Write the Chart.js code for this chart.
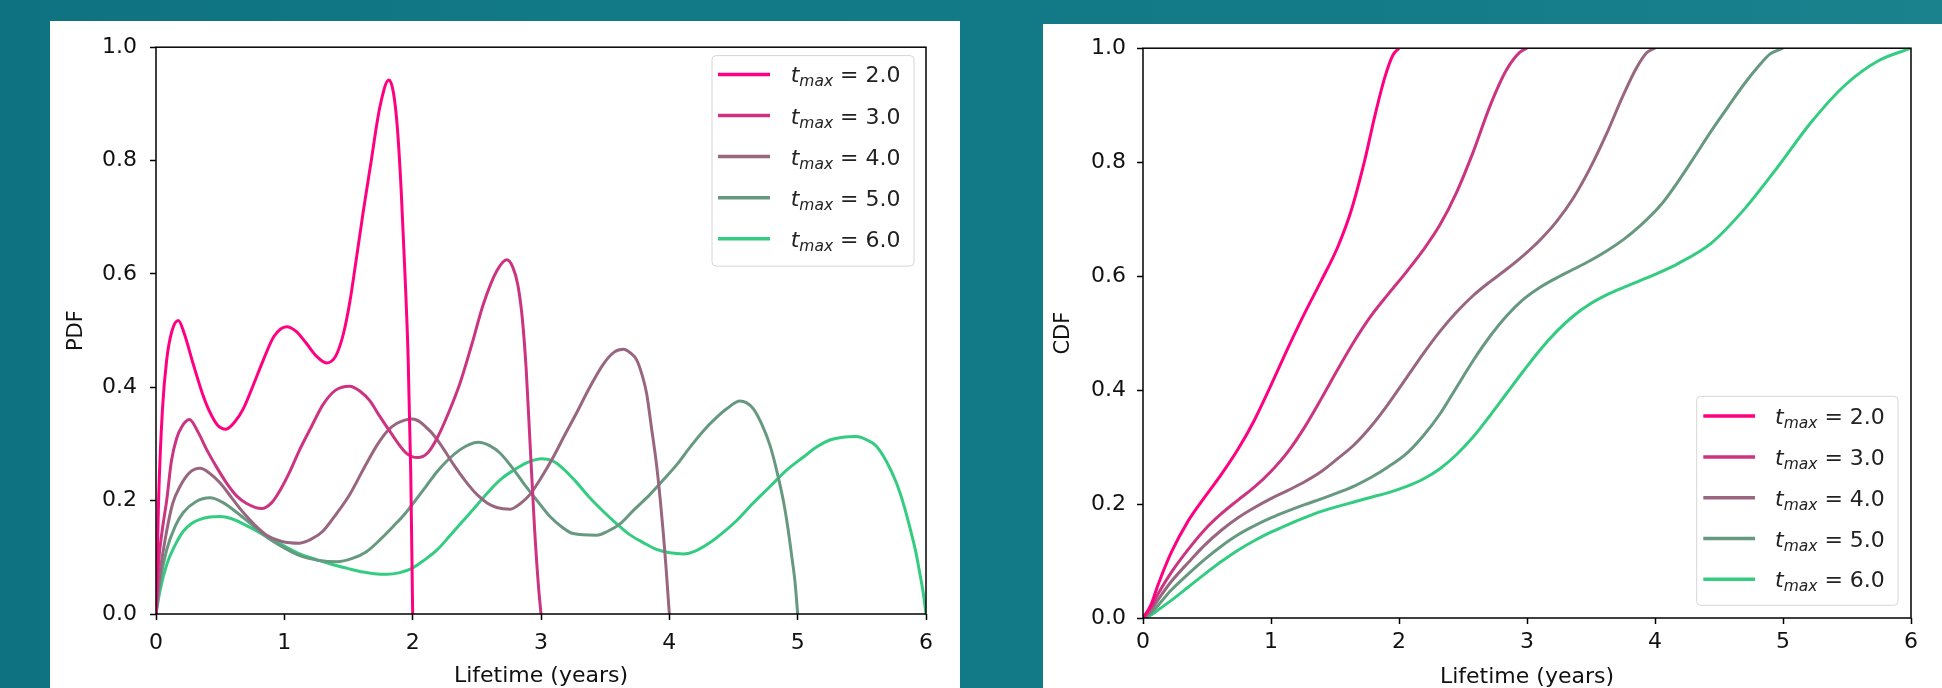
<!DOCTYPE html>
<html>
<head>
<meta charset="utf-8">
<script src="https://cdn.jsdelivr.net/npm/chart.js@4.4.1/dist/chart.umd.min.js"></script>
<style>
html, body { margin: 0; padding: 0; }
body {
    width: 1942px; height: 688px; overflow: hidden; position: relative;
    background: linear-gradient(90deg, #0f7280 0%, #127a87 35%, #137b88 70%, #1a828d 100%);
}
.panel { position: absolute; background: #fff; }
#panelPdf { left: 50px; top: 21px; width: 910px; height: 667px; }
#panelCdf { left: 1043px; top: 24px; width: 899px; height: 664px; }
canvas { display: block; }
</style>
</head>
<body>
<div class="panel" id="panelPdf"><canvas id="chartPdf" width="910" height="667"></canvas></div>
<div class="panel" id="panelCdf"><canvas id="chartCdf" width="899" height="664"></canvas></div>
<script>
// legend values and colours
var tmaxLabels = ['2.0', '3.0', '4.0', '5.0', '6.0'];
var lineColors = ['#ff0080', '#cc3380', '#996680', '#669980', '#33cc80'];

// PDF curves (time in years, density)
var pdf2t = [0, 0.02, 0.05, 0.083, 0.125, 0.174, 0.22, 0.29, 0.36, 0.42, 0.48, 0.545, 0.61, 0.68, 0.76, 0.836, 0.92, 1.018, 1.09, 1.17, 1.25, 1.33, 1.40, 1.46, 1.51, 1.56, 1.615, 1.67, 1.745, 1.815, 1.85, 1.88, 1.91, 1.94, 1.965, 1.985, 2.0];
var pdf2v = [0, 0.20, 0.36, 0.448, 0.50, 0.518, 0.495, 0.441, 0.39, 0.356, 0.333, 0.326, 0.338, 0.362, 0.405, 0.448, 0.49, 0.507, 0.499, 0.478, 0.455, 0.443, 0.455, 0.494, 0.55, 0.625, 0.71, 0.789, 0.895, 0.942, 0.92, 0.86, 0.75, 0.60, 0.45, 0.25, 0];
var pdf3t = [0, 0.02, 0.05, 0.083, 0.12, 0.161, 0.2, 0.26, 0.33, 0.395, 0.47, 0.55, 0.63, 0.706, 0.823, 0.9, 0.966, 1.04, 1.12, 1.21, 1.30, 1.40, 1.51, 1.59, 1.667, 1.74, 1.82, 1.95, 2.04, 2.12, 2.19, 2.28, 2.37, 2.46, 2.55, 2.655, 2.733, 2.78, 2.82, 2.855, 2.885, 2.915, 2.95, 2.98, 3.0];
var pdf3v = [0, 0.09, 0.15, 0.20, 0.27, 0.31, 0.33, 0.343, 0.32, 0.29, 0.26, 0.231, 0.208, 0.195, 0.186, 0.196, 0.218, 0.25, 0.29, 0.33, 0.369, 0.395, 0.402, 0.393, 0.376, 0.35, 0.323, 0.284, 0.276, 0.285, 0.31, 0.355, 0.408, 0.475, 0.546, 0.605, 0.625, 0.612, 0.58, 0.52, 0.43, 0.30, 0.15, 0.05, 0];
var pdf4t = [0, 0.03, 0.083, 0.13, 0.187, 0.26, 0.343, 0.42, 0.5, 0.59, 0.68, 0.77, 0.862, 0.98, 1.12, 1.21, 1.30, 1.40, 1.51, 1.62, 1.72, 1.80, 1.875, 2.0, 2.135, 2.23, 2.318, 2.41, 2.50, 2.58, 2.655, 2.76, 2.84, 2.915, 3.0, 3.096, 3.19, 3.28, 3.38, 3.486, 3.57, 3.642, 3.70, 3.746, 3.79, 3.823, 3.86, 3.90, 3.93, 3.954, 3.975, 4.0];
var pdf4v = [0, 0.07, 0.146, 0.195, 0.225, 0.249, 0.257, 0.248, 0.231, 0.205, 0.179, 0.157, 0.139, 0.128, 0.125, 0.132, 0.146, 0.175, 0.211, 0.257, 0.297, 0.322, 0.336, 0.344, 0.323, 0.295, 0.264, 0.235, 0.211, 0.196, 0.188, 0.185, 0.195, 0.211, 0.24, 0.277, 0.318, 0.356, 0.40, 0.441, 0.462, 0.467, 0.46, 0.448, 0.42, 0.389, 0.33, 0.264, 0.20, 0.14, 0.08, 0];
var pdf5t = [0, 0.03, 0.083, 0.15, 0.213, 0.31, 0.42, 0.52, 0.63, 0.75, 0.862, 0.99, 1.12, 1.26, 1.41, 1.53, 1.64, 1.75, 1.85, 1.94, 2.03, 2.11, 2.19, 2.28, 2.37, 2.44, 2.512, 2.60, 2.68, 2.77, 2.863, 2.97, 3.07, 3.16, 3.25, 3.434, 3.52, 3.616, 3.73, 3.85, 3.95, 4.06, 4.16, 4.265, 4.36, 4.447, 4.55, 4.60, 4.655, 4.72, 4.785, 4.84, 4.89, 4.925, 4.955, 4.98, 5.0];
var pdf5v = [0, 0.055, 0.113, 0.155, 0.179, 0.198, 0.205, 0.197, 0.179, 0.157, 0.136, 0.118, 0.103, 0.095, 0.092, 0.098, 0.110, 0.132, 0.155, 0.177, 0.203, 0.227, 0.251, 0.273, 0.29, 0.299, 0.303, 0.297, 0.284, 0.26, 0.231, 0.20, 0.172, 0.154, 0.142, 0.139, 0.146, 0.159, 0.185, 0.211, 0.236, 0.264, 0.294, 0.323, 0.345, 0.362, 0.376, 0.373, 0.362, 0.335, 0.297, 0.25, 0.198, 0.15, 0.10, 0.055, 0];
var pdf6t = [0, 0.03, 0.083, 0.15, 0.213, 0.28, 0.343, 0.42, 0.5, 0.59, 0.68, 0.78, 0.888, 1.0, 1.12, 1.25, 1.38, 1.5, 1.615, 1.70, 1.80, 1.90, 1.99, 2.09, 2.19, 2.29, 2.395, 2.50, 2.60, 2.70, 2.81, 2.90, 3.005, 3.09, 3.17, 3.27, 3.38, 3.49, 3.59, 3.69, 3.797, 3.9, 4.005, 4.11, 4.21, 4.317, 4.42, 4.525, 4.65, 4.785, 4.91, 5.045, 5.15, 5.25, 5.35, 5.457, 5.54, 5.61, 5.69, 5.77, 5.83, 5.875, 5.92, 5.95, 5.98, 6.0];
var pdf6v = [0, 0.04, 0.087, 0.122, 0.146, 0.16, 0.167, 0.171, 0.172, 0.168, 0.159, 0.147, 0.133, 0.12, 0.106, 0.096, 0.087, 0.08, 0.074, 0.071, 0.070, 0.073, 0.08, 0.095, 0.113, 0.138, 0.165, 0.192, 0.218, 0.24, 0.257, 0.268, 0.274, 0.27, 0.257, 0.234, 0.205, 0.18, 0.159, 0.14, 0.126, 0.114, 0.108, 0.106, 0.112, 0.126, 0.144, 0.165, 0.195, 0.225, 0.253, 0.277, 0.295, 0.307, 0.312, 0.313, 0.307, 0.297, 0.27, 0.231, 0.19, 0.152, 0.11, 0.074, 0.035, 0];

// CDF curves
var cdf2t = [0, 0.06, 0.117, 0.221, 0.352, 0.482, 0.612, 0.742, 0.872, 1.003, 1.133, 1.263, 1.393, 1.523, 1.628, 1.732, 1.81, 1.888, 1.953, 2.0];
var cdf2v = [0, 0.022, 0.058, 0.115, 0.17, 0.212, 0.252, 0.296, 0.348, 0.41, 0.474, 0.535, 0.592, 0.652, 0.716, 0.803, 0.88, 0.948, 0.988, 1.0];
var cdf3t = [0, 0.06, 0.117, 0.221, 0.352, 0.482, 0.612, 0.742, 0.872, 1.003, 1.133, 1.263, 1.393, 1.523, 1.654, 1.784, 1.914, 2.06, 2.19, 2.32, 2.45, 2.58, 2.71, 2.84, 2.945, 3.0];
var cdf3v = [0, 0.018, 0.042, 0.08, 0.12, 0.155, 0.183, 0.207, 0.23, 0.258, 0.292, 0.335, 0.385, 0.437, 0.487, 0.531, 0.568, 0.608, 0.646, 0.69, 0.747, 0.818, 0.898, 0.962, 0.993, 1.0];
var cdf4t = [0, 0.06, 0.117, 0.221, 0.352, 0.482, 0.612, 0.742, 0.872, 1.003, 1.133, 1.263, 1.393, 1.523, 1.654, 1.784, 1.914, 2.06, 2.19, 2.32, 2.45, 2.58, 2.71, 2.84, 2.971, 3.10, 3.232, 3.362, 3.492, 3.622, 3.753, 3.857, 3.935, 4.0];
var cdf4v = [0, 0.013, 0.032, 0.064, 0.097, 0.128, 0.154, 0.176, 0.194, 0.21, 0.224, 0.239, 0.257, 0.28, 0.305, 0.337, 0.375, 0.422, 0.464, 0.503, 0.537, 0.566, 0.59, 0.612, 0.636, 0.663, 0.696, 0.737, 0.789, 0.85, 0.918, 0.966, 0.992, 1.0];
var cdf5t = [0, 0.06, 0.117, 0.221, 0.352, 0.482, 0.612, 0.742, 0.872, 1.003, 1.133, 1.263, 1.393, 1.523, 1.654, 1.784, 1.914, 2.06, 2.19, 2.32, 2.45, 2.58, 2.71, 2.84, 2.971, 3.10, 3.232, 3.362, 3.492, 3.622, 3.753, 3.883, 4.05, 4.18, 4.31, 4.44, 4.57, 4.70, 4.8, 4.9, 5.0];
var cdf5v = [0, 0.008, 0.022, 0.049, 0.077, 0.103, 0.126, 0.146, 0.162, 0.176, 0.188, 0.199, 0.209, 0.22, 0.232, 0.247, 0.265, 0.289, 0.32, 0.358, 0.405, 0.452, 0.494, 0.53, 0.559, 0.58, 0.597, 0.612, 0.627, 0.644, 0.664, 0.688, 0.726, 0.766, 0.81, 0.855, 0.897, 0.938, 0.966, 0.99, 1.0];
var cdf6t = [0, 0.06, 0.117, 0.221, 0.352, 0.482, 0.612, 0.742, 0.872, 1.003, 1.133, 1.263, 1.393, 1.523, 1.654, 1.784, 1.93, 2.06, 2.19, 2.32, 2.45, 2.58, 2.71, 2.84, 2.971, 3.10, 3.232, 3.362, 3.492, 3.622, 3.753, 3.883, 4.0, 4.18, 4.44, 4.70, 4.96, 5.22, 5.484, 5.745, 6.0];
var cdf6v = [0, 0.005, 0.014, 0.031, 0.054, 0.077, 0.099, 0.119, 0.136, 0.151, 0.164, 0.176, 0.187, 0.196, 0.204, 0.212, 0.221, 0.231, 0.244, 0.262, 0.287, 0.318, 0.355, 0.394, 0.433, 0.47, 0.503, 0.53, 0.551, 0.567, 0.58, 0.592, 0.603, 0.622, 0.658, 0.718, 0.792, 0.87, 0.935, 0.978, 1.0];

var pdfSeries = [[pdf2t, pdf2v], [pdf3t, pdf3v], [pdf4t, pdf4v], [pdf5t, pdf5v], [pdf6t, pdf6v]];
var cdfSeries = [[cdf2t, cdf2v], [cdf3t, cdf3v], [cdf4t, cdf4v], [cdf5t, cdf5v], [cdf6t, cdf6v]];

var FONT = '"DejaVu Sans", sans-serif';

function toPoints(ts, vs) {
    return ts.map(function(t, i) { return {x: t, y: vs[i]}; });
}

function makeDatasets(series) {
    return series.map(function(s, i) {
        return {
            label: 't_max = ' + tmaxLabels[i],
            data: toPoints(s[0], s[1]),
            borderColor: lineColors[i],
            backgroundColor: lineColors[i],
            borderWidth: 3,
            pointRadius: 0,
            fill: false,
            cubicInterpolationMode: 'monotone'
        };
    });
}

// matplotlib-like frame around the plot area
var framePlugin = {
    id: 'frame',
    afterDatasetsDraw: function(chart) {
        var a = chart.chartArea, ctx = chart.ctx;
        ctx.save();
        ctx.strokeStyle = '#000';
        ctx.lineWidth = 1.5;
        ctx.strokeRect(a.left, a.top, a.right - a.left, a.bottom - a.top);
        ctx.restore();
    }
};

// legend with italic t and subscript "max"
var mathLegend = {
    id: 'mathLegend',
    afterDraw: function(chart, args, o) {
        var ctx = chart.ctx;
        ctx.save();
        ctx.beginPath();
        ctx.roundRect(o.x, o.y, o.w, o.h, 4);
        ctx.fillStyle = 'rgba(255,255,255,0.85)';
        ctx.fill();
        ctx.strokeStyle = '#d6d6d6';
        ctx.lineWidth = 1;
        ctx.stroke();
        tmaxLabels.forEach(function(lab, i) {
            var y = o.row0 + i * o.gap;
            ctx.strokeStyle = lineColors[i];
            ctx.lineWidth = 3.5;
            ctx.beginPath();
            ctx.moveTo(o.lx0, y);
            ctx.lineTo(o.lx1, y);
            ctx.stroke();
            ctx.fillStyle = '#222';
            ctx.textBaseline = 'alphabetic';
            var x = o.tx, base = y + 8;
            ctx.font = 'italic 22px ' + FONT;
            ctx.fillText('t', x, base);
            x += ctx.measureText('t').width;
            ctx.font = 'italic 15.5px ' + FONT;
            ctx.fillText('max', x, base + 4);
            x += ctx.measureText('max').width;
            ctx.font = '22px ' + FONT;
            ctx.fillText(' = ' + lab, x, base);
        });
        ctx.restore();
    }
};

function makeChart(id, series, yTitle, g) {
    return new Chart(document.getElementById(id), {
        type: 'line',
        data: { datasets: makeDatasets(series) },
        options: {
            animation: false,
            responsive: false,
            events: [],
            layout: { padding: { left: 0, top: g.top, right: g.right, bottom: 0 } },
            plugins: {
                legend: { display: false },
                tooltip: { enabled: false },
                mathLegend: g.legend
            },
            scales: {
                x: {
                    type: 'linear',
                    min: 0, max: 6,
                    afterFit: function(s) { s.height = g.xh; },
                    grid: { drawOnChartArea: false, drawTicks: true, tickLength: 6, tickColor: '#000', tickWidth: 1.5 },
                    border: { display: false },
                    ticks: {
                        stepSize: 1, color: '#111', padding: g.xpad, maxRotation: 0,
                        font: { family: FONT, size: 22 },
                        callback: function(v) { return String(v); }
                    },
                    title: {
                        display: true, text: 'Lifetime (years)', color: '#111',
                        font: { family: FONT, size: 22, lineHeight: 1 },
                        padding: { top: 0, bottom: g.xtpad }
                    }
                },
                y: {
                    type: 'linear',
                    min: 0, max: 1,
                    afterFit: function(s) { s.width = g.yw; },
                    grid: { drawOnChartArea: false, drawTicks: true, tickLength: 6, tickColor: '#000', tickWidth: 1.5 },
                    border: { display: false },
                    ticks: {
                        stepSize: 0.2, color: '#111', padding: g.ypad,
                        font: { family: FONT, size: 22 },
                        callback: function(v) { return v.toFixed(1); }
                    },
                    title: {
                        display: true, text: yTitle, color: '#111',
                        font: { family: FONT, size: 21, lineHeight: 1 },
                        padding: { top: g.ytpad, bottom: 0 }
                    }
                }
            }
        },
        plugins: [framePlugin, mathLegend]
    });
}

var chartPdf = makeChart('chartPdf', pdfSeries, 'PDF', {
    top: 20, right: 34, xh: 74, yw: 106, xpad: 10, ypad: 13, xtpad: 0.5, ytpad: 16,
    legend: { x: 662, y: 34.6, w: 202, h: 210.5, row0: 53.4, gap: 41.1, lx0: 668, lx1: 720, tx: 740.7 }
});

var chartCdf = makeChart('chartCdf', cdfSeries, 'CDF', {
    top: 23, right: 31, xh: 70, yw: 100, xpad: 5.5, ypad: 11, xtpad: 0, ytpad: 10,
    legend: { x: 653.7, y: 372.3, w: 201.3, h: 209, row0: 392.1, gap: 40.8, lx0: 660.3, lx1: 712, tx: 732 }
});
</script>
</body>
</html>
